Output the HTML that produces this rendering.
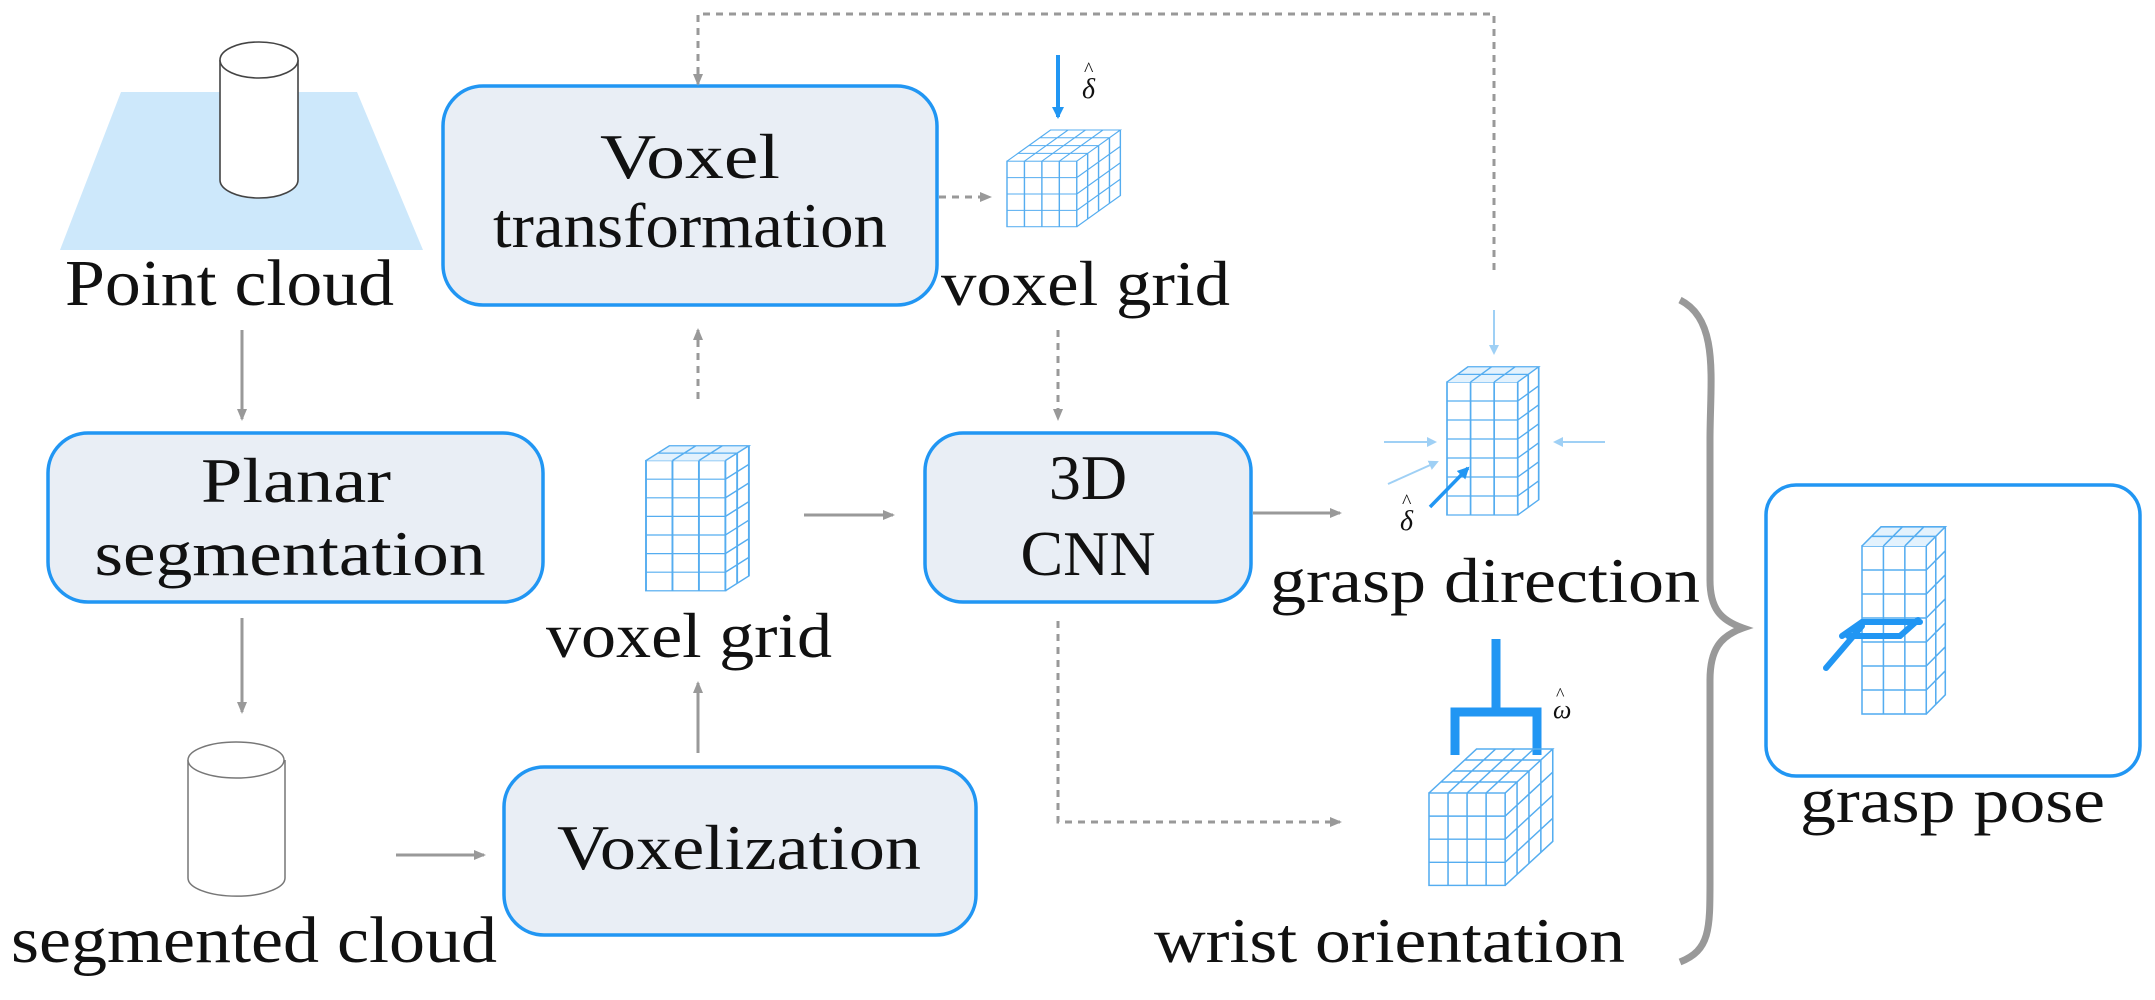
<!DOCTYPE html>
<html><head><meta charset="utf-8"><style>
html,body{margin:0;padding:0;background:#fff;}
svg{display:block;}
text{font-family:"Liberation Serif",serif;fill:#111;}
</style></head><body>
<svg width="2155" height="1000" viewBox="0 0 2155 1000" xmlns="http://www.w3.org/2000/svg">
<defs>
<marker id="ag" markerWidth="12" markerHeight="10" refX="10" refY="5" orient="auto" markerUnits="userSpaceOnUse"><path d="M0,0 L12,5 L0,10 z" fill="#999"/></marker>
<marker id="ab" markerWidth="12" markerHeight="12" refX="10" refY="6" orient="auto" markerUnits="userSpaceOnUse"><path d="M0,0 L12,6 L0,12 z" fill="#2196F3"/></marker>
<marker id="abl" markerWidth="10" markerHeight="10" refX="8" refY="5" orient="auto" markerUnits="userSpaceOnUse"><path d="M0,0 L10,5 L0,10 z" fill="#9fd0f5"/></marker>
<g id="tall" fill="none" stroke="#55adf0" stroke-width="1.3">
 <rect x="0" y="20" width="54" height="140" fill="#fff"/>
 <path d="M18,20V160M36,20V160M0,40H54M0,60H54M0,80H54M0,100H54M0,120H54M0,140H54"/>
 <path d="M0,20 L16,4 L70,4 L54,20 M18,20 L34,4 M36,20 L52,4 M8,12 H62" fill="#e3f2fd"/>
 <path d="M70,4 V144 L54,160 M62,12 V152 M54,40 L70,24 M54,60 L70,44 M54,80 L70,64 M54,100 L70,84 M54,120 L70,104 M54,140 L70,124"/>
</g>
<g id="wide" fill="none" stroke="#55adf0" stroke-width="1.3">
 <rect x="0" y="40" width="64" height="84" fill="#fff"/>
 <path d="M16,40V124M32,40V124M48,40V124M0,61H64M0,82H64M0,103H64"/>
 <path d="M0,40 L40,0 L104,0 L64,40 M16,40 L56,0 M32,40 L72,0 M48,40 L88,0 M10,30 H74 M20,20 H84 M30,10 H94"/>
 <path d="M104,0 V84 L64,124 M104,21 L64,61 M104,42 L64,82 M104,63 L64,103 M74,30 V114 M84,20 V104 M94,10 V94"/>
</g>
</defs>

<!-- point cloud -->
<polygon points="121,92 357,92 423,250 60,250" fill="#cde8fb"/>
<path d="M220,60 V180 A39,18 0 0 0 298,180 V60" fill="#fff" stroke="#444" stroke-width="1.6"/>
<ellipse cx="259" cy="60" rx="39" ry="18" fill="#fff" stroke="#444" stroke-width="1.6"/>
<text x="65" y="305" font-size="66" textLength="329" lengthAdjust="spacingAndGlyphs">Point cloud</text>

<!-- boxes -->
<rect x="443" y="86" width="494" height="219" rx="40" fill="#e9eef5" stroke="#2196F3" stroke-width="3.5"/>
<text x="690" y="178" font-size="64" text-anchor="middle" textLength="180" lengthAdjust="spacingAndGlyphs">Voxel</text>
<text x="690" y="247" font-size="64" text-anchor="middle" textLength="394" lengthAdjust="spacingAndGlyphs">transformation</text>

<rect x="48" y="433" width="495" height="169" rx="40" fill="#e9eef5" stroke="#2196F3" stroke-width="3.5"/>
<text x="296" y="502" font-size="64" text-anchor="middle" textLength="190" lengthAdjust="spacingAndGlyphs">Planar</text>
<text x="290" y="575" font-size="64" text-anchor="middle" textLength="391" lengthAdjust="spacingAndGlyphs">segmentation</text>

<rect x="504" y="767" width="472" height="168" rx="40" fill="#e9eef5" stroke="#2196F3" stroke-width="3.5"/>
<text x="739" y="869" font-size="64" text-anchor="middle" textLength="364" lengthAdjust="spacingAndGlyphs">Voxelization</text>

<rect x="925" y="433" width="326" height="169" rx="38" fill="#e9eef5" stroke="#2196F3" stroke-width="3.5"/>
<text x="1088" y="499" font-size="64" text-anchor="middle">3D</text>
<text x="1088" y="575" font-size="64" text-anchor="middle">CNN</text>

<!-- segmented cylinder -->
<path d="M188,760 V878 A48,18 0 0 0 285,878 V760" fill="#fff" stroke="#777" stroke-width="1.5"/>
<ellipse cx="236" cy="760" rx="48" ry="18" fill="#fff" stroke="#777" stroke-width="1.5"/>
<text x="11" y="962" font-size="66" textLength="486" lengthAdjust="spacingAndGlyphs">segmented cloud</text>

<!-- solid arrows -->
<g stroke="#999" stroke-width="3" fill="none">
<line x1="242" y1="330" x2="242" y2="419" marker-end="url(#ag)"/>
<line x1="242" y1="618" x2="242" y2="712" marker-end="url(#ag)"/>
<line x1="396" y1="855" x2="484" y2="855" marker-end="url(#ag)"/>
<line x1="698" y1="753" x2="698" y2="683" marker-end="url(#ag)"/>
<line x1="804" y1="515" x2="893" y2="515" marker-end="url(#ag)"/>
<line x1="1253" y1="513" x2="1340" y2="513" marker-end="url(#ag)"/>
</g>
<!-- dashed -->
<g stroke="#999" stroke-width="3" fill="none" stroke-dasharray="7,6">
<line x1="698" y1="399" x2="698" y2="330" marker-end="url(#ag)"/>
<line x1="939" y1="197" x2="990" y2="197" marker-end="url(#ag)"/>
<line x1="1058" y1="330" x2="1058" y2="419" marker-end="url(#ag)"/>
<polyline points="1058,621 1058,822 1340,822" marker-end="url(#ag)"/>
<polyline points="1494,270 1494,14 698,14 698,84" marker-end="url(#ag)"/>
</g>

<!-- voxel grids -->
<use href="#tall" transform="translate(646,442) scale(1.47,0.93)"/>
<text x="546" y="657" font-size="64" textLength="286" lengthAdjust="spacingAndGlyphs">voxel grid</text>

<use href="#wide" transform="translate(1007,130) scale(1.09,0.78)"/>
<line x1="1058" y1="55" x2="1058" y2="117" stroke="#2196F3" stroke-width="4" marker-end="url(#ab)"/>
<text x="1082" y="98" font-size="28" font-style="italic">δ</text>
<text x="1084" y="76" font-size="20">^</text>
<text x="941" y="305" font-size="64" textLength="289" lengthAdjust="spacingAndGlyphs">voxel grid</text>

<!-- grasp direction -->
<use href="#tall" transform="translate(1447,363) scale(1.31,0.95)"/>
<g stroke="#9fd0f5" stroke-width="2" fill="none">
<line x1="1494" y1="310" x2="1494" y2="353" marker-end="url(#abl)"/>
<line x1="1384" y1="442" x2="1435" y2="442" marker-end="url(#abl)"/>
<line x1="1605" y1="442" x2="1555" y2="442" marker-end="url(#abl)"/>
<line x1="1388" y1="484" x2="1437" y2="462" marker-end="url(#abl)"/>
</g>
<line x1="1430" y1="507" x2="1468" y2="468" stroke="#2196F3" stroke-width="3.5" marker-end="url(#ab)"/>
<text x="1400" y="530" font-size="28" font-style="italic">δ</text>
<text x="1402" y="508" font-size="20">^</text>
<text x="1270" y="602" font-size="64" textLength="430" lengthAdjust="spacingAndGlyphs">grasp direction</text>

<!-- wrist -->
<path d="M1496,639 V712 M1455,755 V712 H1537 V755" stroke="#2196F3" stroke-width="9" fill="none"/>
<text x="1553" y="718" font-size="26" font-style="italic">ω</text>
<text x="1556" y="700" font-size="18">^</text>
<use href="#wide" transform="translate(1429,749) scale(1.19,1.1)"/>
<text x="1154" y="962" font-size="64" textLength="471" lengthAdjust="spacingAndGlyphs">wrist orientation</text>

<!-- brace -->
<path d="M1680,300 C1720,320 1710,380 1710,440 L1710,580 C1710,608 1720,620 1743,628 C1720,636 1710,650 1710,680 L1710,880 C1710,930 1710,950 1680,962" stroke="#999" stroke-width="7" fill="none"/>

<!-- grasp pose -->
<rect x="1766" y="485" width="374" height="291" rx="30" fill="#fff" stroke="#2196F3" stroke-width="3.5"/>
<use href="#tall" transform="translate(1862,522) scale(1.19,1.2)"/>
<path d="M1842,636 L1862,622 L1920,622 M1848,636 H1900 L1918,620 M1862,626 L1826,668" stroke="#2196F3" stroke-width="6" fill="none" stroke-linecap="round"/>
<text x="1800" y="822" font-size="64" textLength="305" lengthAdjust="spacingAndGlyphs">grasp pose</text>
</svg>
</body></html>
